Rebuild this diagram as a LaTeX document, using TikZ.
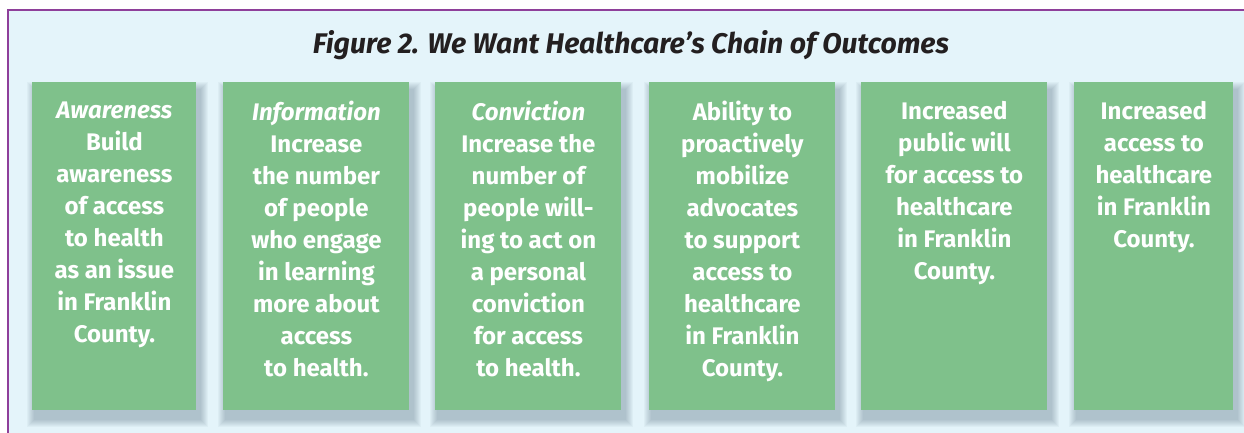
\documentclass[tikz,border=0pt]{standalone}
\usepackage{fontspec}
\setmainfont{Fira Sans}
\usetikzlibrary{positioning,backgrounds}
\definecolor{chaingreen}{HTML}{7FC18B}
\definecolor{panelblue}{HTML}{E4F4FA}
\definecolor{framepurple}{HTML}{8E3F9A}
\definecolor{titleink}{HTML}{231F20}
\definecolor{shadowink}{HTML}{2E4A60}

\begin{document}
\begin{tikzpicture}[x=0.5pt,y=0.5pt,
    stage/.style={fill=chaingreen,draw=none,anchor=north west,
      minimum height=164pt,inner sep=0pt},
    stagetext/.style={align=center,text=white,inner sep=0pt,anchor=north,
      font=\bfseries\fontsize{12}{16}\selectfont},
    softshadow/.style={fill=shadowink,opacity=0.038}]

    \useasboundingbox (0,0) rectangle (1244,433);

    % Title
    \node[anchor=base,text=titleink,font=\bfseries\itshape\fontsize{14.2}{17}\selectfont]
      (title) at (631,379) {Figure 2. We Want Healthcare’s Chain of Outcomes};

    % Outcome boxes
    \node[stage,minimum width=82pt]   (s1) at (32,351)   {};
    \node[stage,minimum width=93pt]   (s2) at (223,351)  {};
    \node[stage,minimum width=93pt]   (s3) at (435,351)  {};
    \node[stage,minimum width=93pt]   (s4) at (649,351)  {};
    \node[stage,minimum width=93pt]   (s5) at (861,351)  {};
    \node[stage,minimum width=79.5pt] (s6) at (1074,351) {};

    % Box texts
    \node[stagetext,below=9.5pt of s1.north] (t1) {\textit{Awareness}\\Build\\awareness\\of access\\to health\\as an issue\\in Franklin\\County.};
    \node[stagetext,below=9.5pt of s2.north] (t2) {\textit{Information}\\Increase\\the number\\of people\\who engage\\in learning\\more about\\access\\to health.};
    \node[stagetext,below=9.5pt of s3.north] (t3) {\textit{Conviction}\\Increase the\\number of\\people will-\\ing to act on\\a personal\\conviction\\for access\\to health.};
    \node[stagetext,below=9.5pt of s4.north] (t4) {Ability to\\proactively\\mobilize\\advocates\\to support\\access to\\healthcare\\in Franklin\\County.};
    \node[stagetext,below=9.5pt of s5.north] (t5) {Increased\\public will\\for access to\\healthcare\\in Franklin\\County.};
    \node[stagetext,below=9.5pt of s6.north] (t6) {Increased\\access to\\healthcare\\in Franklin\\County.};

    % Panel and shadows behind everything
    \begin{scope}[on background layer]
      \fill[panelblue] (8,0) rectangle (1244,423);
      \foreach \s in {s1,s2,s3,s4,s5,s6}
        \foreach \k in {1,...,8}
          \fill[softshadow]
            ([shift={(1.5pt-\k*0.5pt,-4pt+\k*0.5pt)}]\s.north west) rectangle
            ([shift={(1.5pt+\k*0.5pt,-4pt-\k*0.5pt)}]\s.south east);
    \end{scope}

    % Frame
    \draw[framepurple,line width=1pt] (8,0) -- (8,423) -- (1244,423);

\end{tikzpicture}
\end{document}
